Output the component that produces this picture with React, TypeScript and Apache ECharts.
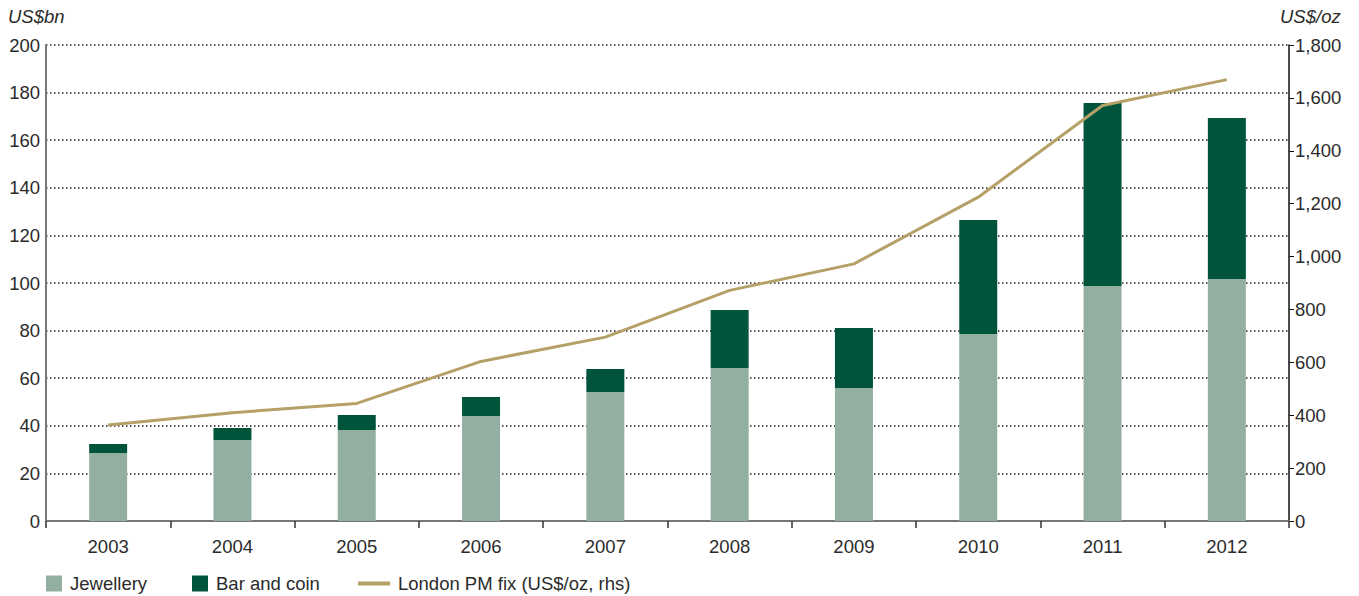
import React, { useEffect, useRef } from "react";
import * as echarts from "echarts";

const years = ["2003", "2004", "2005", "2006", "2007", "2008", "2009", "2010", "2011", "2012"];
const jewellery = [28.6, 34.0, 38.2, 44.1, 54.2, 64.3, 55.9, 78.6, 98.7, 101.7];
const barAndCoin = [3.8, 5.1, 6.3, 8.0, 9.7, 24.4, 25.2, 47.9, 76.9, 67.6];
const goldPrice = [363.4, 409.7, 444.7, 603.5, 695.4, 872.0, 972.4, 1224.5, 1571.5, 1669.0];

const FONT = "Liberation Sans, Arial, Helvetica, sans-serif";
const TXT = "#2b2b2b";
const FS = 18.5;

export default function App() {
  const ref = useRef<HTMLDivElement>(null);
  useEffect(() => {
    if (!ref.current) return;
    const chart = echarts.init(ref.current, undefined, { renderer: "svg" });
    const legendText = { fontSize: FS, color: TXT, fontFamily: FONT, padding: [0, 0, 0, 3] };
    const legendBase = { top: 574, padding: 0, itemGap: 8 };
    chart.setOption({
      animation: false,
      textStyle: { fontFamily: FONT },
      grid: { left: 46, right: 70, top: 45, bottom: 75 },
      legend: [
        {
          ...legendBase, left: 46, itemWidth: 16, itemHeight: 16,
          data: [{ name: "Jewellery", icon: "rect" }],
          textStyle: legendText,
        },
        {
          ...legendBase, left: 192, itemWidth: 16, itemHeight: 16,
          data: [{ name: "Bar and coin", icon: "rect" }],
          textStyle: legendText,
        },
        {
          ...legendBase, left: 358, itemWidth: 32, itemHeight: 4,
          data: [{ name: "London PM fix (US$/oz, rhs)", icon: "rect" }],
          textStyle: legendText,
        },
      ],
      graphic: [
        { type: "text", left: 8, top: 7, style: { text: "US$bn", fontSize: FS, fontStyle: "italic", fill: TXT, fontFamily: FONT } },
        { type: "text", left: 1280, top: 7, style: { text: "US$/oz", fontSize: FS, fontStyle: "italic", fill: TXT, fontFamily: FONT } },
      ],
      xAxis: {
        type: "category",
        data: years,
        axisLine: { lineStyle: { color: "#777", width: 2 } },
        axisTick: { show: true, length: 7, lineStyle: { color: "#333", width: 1.5 } },
        axisLabel: { fontSize: FS, color: TXT, margin: 16, fontFamily: FONT },
      },
      yAxis: [
        {
          type: "value", min: 0, max: 200, interval: 20,
          axisLine: { show: true, lineStyle: { color: "#777", width: 2 } },
          axisTick: { show: false },
          axisLabel: { fontSize: FS, color: TXT, margin: 6, fontFamily: FONT },
          splitLine: { show: true, lineStyle: { color: "#222", width: 1.5, type: [1.5, 2.5] } },
        },
        {
          type: "value", min: 0, max: 1800, interval: 200, position: "right",
          axisLine: { show: true, lineStyle: { color: "#111", width: 1.5 } },
          axisTick: { show: true, inside: false, length: 5, lineStyle: { color: "#111" } },
          axisLabel: {
            fontSize: FS, color: TXT, margin: 6, fontFamily: FONT,
            formatter: (v: number) => v.toLocaleString("en-US"),
          },
          splitLine: { show: false },
        },
      ],
      series: [
        {
          name: "Jewellery", type: "bar", stack: "total", data: jewellery,
          barWidth: 38, itemStyle: { color: "#93afa1" },
        },
        {
          name: "Bar and coin", type: "bar", stack: "total", data: barAndCoin,
          barWidth: 38, itemStyle: { color: "#00543c" },
        },
        {
          name: "London PM fix (US$/oz, rhs)", type: "line", yAxisIndex: 1, data: goldPrice,
          symbol: "none", lineStyle: { color: "#b5a068", width: 3 }, itemStyle: { color: "#b5a068" },
        },
      ],
    });
    return () => chart.dispose();
  }, []);
  return (
    <div
      ref={ref}
      style={{ position: "absolute", left: 0, top: 0, width: 1359, height: 596, background: "#fff" }}
    />
  );
}
